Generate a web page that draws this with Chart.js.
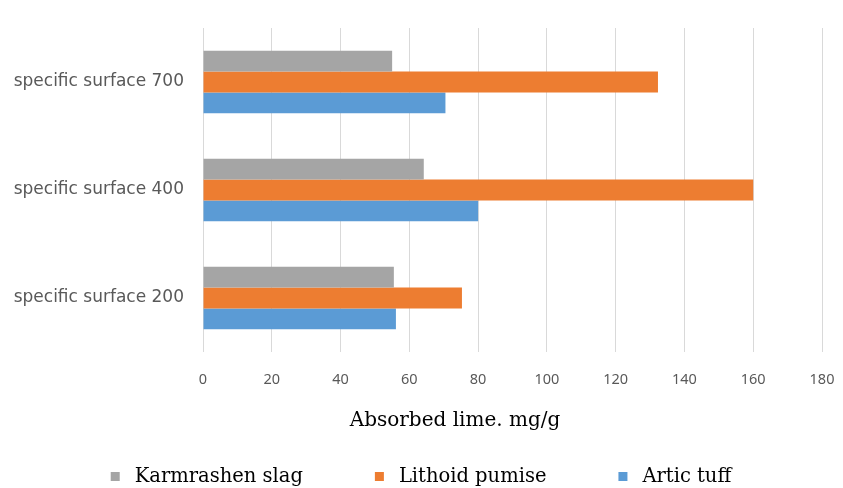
<!DOCTYPE html>
<html><head><meta charset="utf-8">
<script src="https://cdn.jsdelivr.net/npm/chart.js@4"></script>
<style>html,body{margin:0;padding:0;background:#fff}#wrap{width:843px;height:488px}</style>
</head><body><div id="wrap"><canvas id="c" width="843" height="488"></canvas></div>
<script>
const categories = ['specific surface 700', 'specific surface 400', 'specific surface 200'];
const seriesNames = ['Karmrashen slag', 'Lithoid pumise', 'Artic tuff'];
const karmrashenSlag = [55, 64.2, 55.5];
const lithoidPumise = [132.3, 160, 75.3];
const articTuff = [70.5, 80, 56.1];
const xTicks = [0, 20, 40, 60, 80, 100, 120, 140, 160, 180];
const colors = ['#A5A5A5', '#ED7D31', '#5B9BD5'];
const axisTitle = 'Absorbed lime. mg/g';

const bottomPlugin = {
  id: 'bottomText',
  afterDraw(chart) {
    const ctx = chart.ctx;
    ctx.save();
    ctx.fillStyle = '#000';
    ctx.font = '20px "DejaVu Serif"';
    ctx.textAlign = 'center';
    ctx.textBaseline = 'middle';
    ctx.fillText(axisTitle, 455, 421);
    // legend
    ctx.font = '19.5px "DejaVu Serif"';
    ctx.textAlign = 'left';
    const gap = 72, box = 9, boxGap = 15;
    const widths = seriesNames.map(n => box + boxGap + ctx.measureText(n).width);
    const total = widths.reduce((a, b) => a + b, 0) + gap * (widths.length - 1);
    let x = 421 - total / 2;
    const y = 477;
    seriesNames.forEach((n, i) => {
      ctx.fillStyle = colors[i];
      ctx.fillRect(x, y - 5, box, box);
      ctx.fillStyle = '#000';
      ctx.fillText(n, x + box + boxGap, y);
      x += widths[i] + gap;
    });
    ctx.restore();
  }
};

new Chart(document.getElementById('c'), {
  type: 'bar',
  data: {
    labels: categories,
    datasets: [karmrashenSlag, lithoidPumise, articTuff].map((d, i) => ({
      label: seriesNames[i], data: d, backgroundColor: colors[i],
      barPercentage: 1, categoryPercentage: 0.58, borderWidth: 0
    }))
  },
  options: {
    indexAxis: 'y',
    responsive: false,
    animation: false,
    devicePixelRatio: 1,
    layout: { padding: { top: 28, right: 21, left: 0, bottom: 0 } },
    plugins: { legend: { display: false }, tooltip: { enabled: false } },
    scales: {
      x: {
        min: 0, max: 180,
        afterBuildTicks(s) { s.ticks = xTicks.map(v => ({ value: v })); },
        afterFit(s) { s.height = 136; s.paddingLeft = 0; s.paddingRight = 0; },
        grid: { color: '#D9D9D9', lineWidth: 1, drawTicks: false },
        border: { display: false },
        ticks: { color: '#595959', font: { family: 'Noto Sans', size: 14.5 }, padding: 19 }
      },
      y: {
        afterFit(s) { s.width = 203; },
        grid: { display: false },
        border: { display: false },
        ticks: { color: '#595959', font: { family: 'DejaVu Sans', size: 17 }, padding: 11 }
      }
    }
  },
  plugins: [bottomPlugin]
});
</script></body></html>
